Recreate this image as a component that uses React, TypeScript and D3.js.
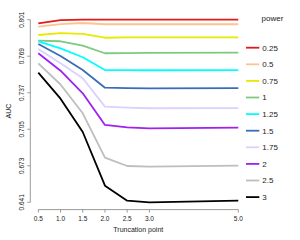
import React from 'react';
import * as d3 from 'd3';

// truncation points on the x axis
const truncation = [0.5, 1.0, 1.5, 2.0, 2.5, 3.0, 5.0];
const xTicks = [0.5, 1.0, 1.5, 2.0, 2.5, 3.0, 5.0];
const yTicks = [0.641, 0.673, 0.705, 0.737, 0.769, 0.801];

// one AUC series per power value
const powers = ['0.25', '0.5', '0.75', '1', '1.25', '1.5', '1.75', '2', '2.5', '3'];
const auc025 = [0.7977, 0.8007, 0.8010, 0.8010, 0.8010, 0.8010, 0.8010];
const auc05 = [0.7949, 0.7972, 0.7981, 0.7970, 0.7970, 0.7970, 0.7970];
const auc075 = [0.7876, 0.7893, 0.7885, 0.7852, 0.7855, 0.7856, 0.7856];
const auc1 = [0.7826, 0.7821, 0.7782, 0.7716, 0.7718, 0.7719, 0.7721];
const auc125 = [0.7821, 0.7759, 0.7681, 0.7569, 0.7568, 0.7567, 0.7569];
const auc15 = [0.7797, 0.7692, 0.7569, 0.7414, 0.7411, 0.7409, 0.7410];
const auc175 = [0.7753, 0.7628, 0.7497, 0.7248, 0.7240, 0.7234, 0.7236];
const auc2 = [0.7716, 0.7563, 0.7365, 0.7088, 0.7067, 0.7058, 0.7064];
const auc25 = [0.7628, 0.7442, 0.7190, 0.6801, 0.6728, 0.6722, 0.6731];
const auc3 = [0.7546, 0.7318, 0.7026, 0.6556, 0.6424, 0.6410, 0.6424];
const series = [auc025, auc05, auc075, auc1, auc125, auc15, auc175, auc2, auc25, auc3];
const colors = ['#E31A1C', '#FDC48F', '#E8E800', '#7FC97F', '#00FFFF', '#3A6DB5', '#DDD0FF', '#A020F0', '#BEBEBE', '#000000'];

const W = 300;
const H = 240;
const font = '"Liberation Sans", Arial, Helvetica, sans-serif';

export default function App() {
  // R style 4% padding around the data range
  const xPad = (5.0 - 0.5) * 0.04;
  const yPad = (0.801 - 0.641) * 0.04;
  const x = d3.scaleLinear().domain([0.5 - xPad, 5.0 + xPad]).range([30.3, 246.3]);
  const y = d3.scaleLinear().domain([0.641 - yPad, 0.801 + yPad]).range([209.6, 12.4]);

  const line = d3.line<number>()
    .x((_, i) => x(truncation[i]))
    .y(d => y(d));

  const axisColor = '#9a9a9a';
  const textColor = '#222';
  const xAxisY = y.range()[0];
  const yAxisX = x.range()[0];

  return (
    <svg width={W} height={H} style={{ position: 'absolute', left: 0, top: 0, background: '#fff' }}
      fontFamily={font}>
      {/* series */}
      {series.map((s, i) => (
        <path key={powers[i]} d={line(s) || ''} fill="none" stroke={colors[i]}
          strokeWidth={1.8} strokeLinejoin="round" />
      ))}

      {/* x axis */}
      <line x1={x(xTicks[0])} x2={x(xTicks[xTicks.length - 1])} y1={xAxisY} y2={xAxisY}
        stroke={axisColor} strokeWidth={1} />
      {xTicks.map(t => (
        <g key={t} transform={`translate(${x(t)},${xAxisY})`}>
          <line y2={3} stroke={axisColor} />
          <text y={11.5} textAnchor="middle" fontSize={6.5} fill={textColor}>{t.toFixed(1)}</text>
        </g>
      ))}
      <text x={(x.range()[0] + x.range()[1]) / 2} y={232} textAnchor="middle" fontSize={7}
        fill={textColor}>Truncation point</text>

      {/* y axis */}
      <line x1={yAxisX} x2={yAxisX} y1={y(yTicks[0])} y2={y(yTicks[yTicks.length - 1])}
        stroke={axisColor} strokeWidth={1} />
      {yTicks.map(t => (
        <g key={t} transform={`translate(${yAxisX},${y(t)})`}>
          <line x2={-3} stroke={axisColor} />
          <text transform="translate(-6,0) rotate(-90)" textAnchor="middle" fontSize={6.5}
            fill={textColor}>{t.toFixed(3)}</text>
        </g>
      ))}
      <text transform={`translate(11,${(y.range()[0] + y.range()[1]) / 2}) rotate(-90)`}
        textAnchor="middle" fontSize={7} fill={textColor}>AUC</text>

      {/* legend */}
      <text x={261.5} y={21} fontSize={8} fill={textColor}>power</text>
      {powers.map((p, i) => {
        const ly = 47.7 + i * 16.6;
        return (
          <g key={p}>
            <line x1={246} x2={259.3} y1={ly} y2={ly} stroke={colors[i]} strokeWidth={1.8} />
            <text x={262.3} y={ly + 2.9} fontSize={8} fill={textColor}>{p}</text>
          </g>
        );
      })}
    </svg>
  );
}
